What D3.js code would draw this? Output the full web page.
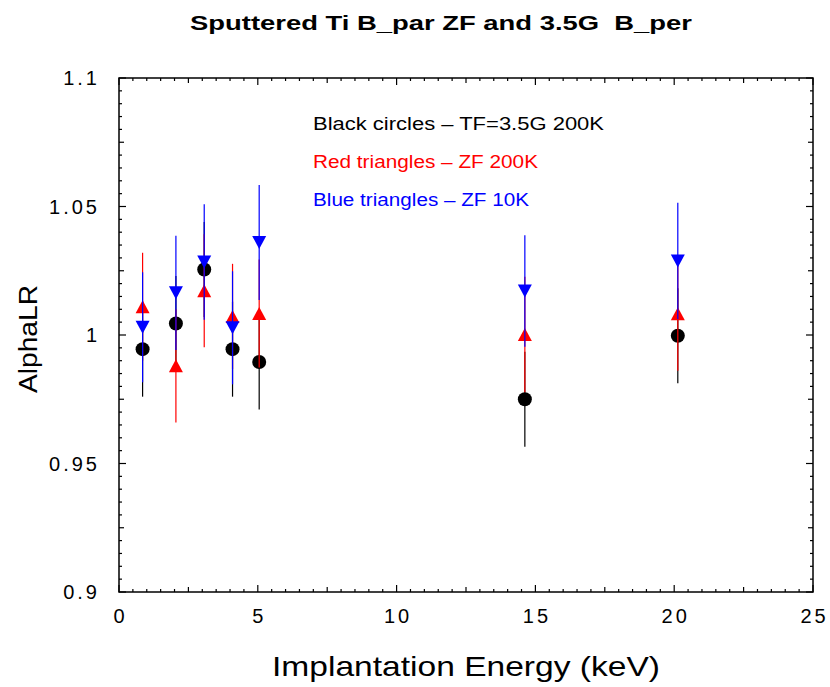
<!DOCTYPE html>
<html>
<head>
<meta charset="utf-8">
<script src="https://cdn.jsdelivr.net/npm/d3@7"></script>
<style>
  body { margin: 0; background: #fff; }
  svg text { font-family: "Liberation Sans", Arial, sans-serif; white-space: pre; }
</style>
</head>
<body>
<div id="chart"></div>
<script>
// Data
const energy = [0.85, 2.05, 3.07, 4.09, 5.05, 14.62, 20.13];

const blackVals = [0.9945, 1.0045, 1.0255, 0.9945, 0.9895, 0.9750, 0.9997];
const blackErr  = [0.0185, 0.0185, 0.0185, 0.0185, 0.0185, 0.0185, 0.0185];

const redVals = [1.0110, 0.9880, 1.0172, 1.0072, 1.0084, 1.0002, 1.0083];
const redErr  = [0.0210, 0.0220, 0.0220, 0.0205, 0.0210, 0.0225, 0.0222];

const blueVals = [1.0030, 1.0164, 1.0284, 1.0028, 1.0360, 1.0171, 1.0288];
const blueErr  = [0.0214, 0.0222, 0.0225, 0.0220, 0.0224, 0.0217, 0.0227];

const legendTexts = [
    "Black circles \u2013 TF=3.5G 200K",
    "Red triangles \u2013 ZF 200K",
    "Blue triangles \u2013 ZF 10K"
];
const legendColors = ["#000000", "#ff0000", "#0000ff"];

const xMajor = [0, 5, 10, 15, 20, 25];
const yMajor = [0.9, 0.95, 1.0, 1.05, 1.1];

const width = 830;
const height = 687;
const margin = { left: 119, right: 17, top: 78, bottom: 95 };

const svg = d3.select("#chart")
    .append("svg")
    .attr("width", width)
    .attr("height", height);

const x = d3.scaleLinear().domain([0, 25]).range([margin.left, width - margin.right]);
const y = d3.scaleLinear().domain([0.9, 1.1]).range([height - margin.bottom, margin.top]);

const xl = x(0), xr = x(25), yb = y(0.9), yt = y(1.1);

// frame
svg.append("rect")
    .attr("x", xl)
    .attr("y", yt)
    .attr("width", xr - xl)
    .attr("height", yb - yt)
    .attr("fill", "none")
    .attr("stroke", "#000")
    .attr("stroke-width", 1.5);

// stretch a text to a given width (the reference uses wide lettering)
const fit = (sel, w) => sel.attr("textLength", w).attr("lengthAdjust", "spacingAndGlyphs");

// tick labels
svg.append("g").selectAll("text")
    .data(xMajor)
    .enter().append("text")
    .attr("x", d => x(d))
    .attr("y", yb + 31)
    .attr("text-anchor", "middle")
    .attr("font-size", 20)
    .attr("letter-spacing", 3)
    .attr("dx", 1.5)
    .text(d => d);

svg.append("g").selectAll("text")
    .data(yMajor)
    .enter().append("text")
    .attr("x", xl - 19)
    .attr("y", d => y(d) + 7)
    .attr("text-anchor", "end")
    .attr("font-size", 20)
    .attr("letter-spacing", 3)
    .text(d => String(+d.toFixed(2)));

// titles
svg.append("text")
    .attr("x", 441)
    .attr("y", 30)
    .attr("text-anchor", "middle")
    .attr("font-size", 21)
    .attr("font-weight", "bold")
    .text("Sputtered Ti B_par ZF and 3.5G  B_per")
    .call(fit, 502);

svg.append("text")
    .attr("x", (xl + xr) / 2)
    .attr("y", 676)
    .attr("text-anchor", "middle")
    .attr("font-size", 28)
    .text("Implantation Energy (keV)")
    .call(fit, 388);

svg.append("text")
    .attr("transform", `translate(37,339) rotate(-90)`)
    .attr("text-anchor", "middle")
    .attr("font-size", 26)
    .text("AlphaLR")
    .call(fit, 108);

// legend text inside the plot
const legendWidths = [291, 225, 216];
svg.append("g").selectAll("text")
    .data(legendTexts)
    .enter().append("text")
    .attr("x", 313)
    .attr("y", (d, i) => 130 + i * 38)
    .attr("font-size", 17.5)
    .attr("fill", (d, i) => legendColors[i])
    .text(d => d)
    .each(function(d, i) { d3.select(this).call(fit, legendWidths[i]); });

// series
const series = [
    { vals: blackVals, err: blackErr, color: "#000000", shape: "circle" },
    { vals: redVals, err: redErr, color: "#ff0000", shape: "up" },
    { vals: blueVals, err: blueErr, color: "#0000ff", shape: "down" }
];

const triPath = (dir) => {
    const w = 7, h = 6.5;
    return dir === "up"
        ? `M0,${-h}L${w},${h}L${-w},${h}Z`
        : `M0,${h}L${w},${-h}L${-w},${-h}Z`;
};

series.forEach(s => {
    const pts = energy.map((e, i) => ({ e: e, v: s.vals[i], err: s.err[i] }));
    const g = svg.append("g");

    g.selectAll(".err")
        .data(pts)
        .enter().append("line")
        .attr("x1", d => x(d.e))
        .attr("x2", d => x(d.e))
        .attr("y1", d => y(d.v - d.err))
        .attr("y2", d => y(d.v + d.err))
        .attr("stroke", s.color)
        .attr("stroke-width", 1.2);

    if (s.shape === "circle") {
        g.selectAll(".pt")
            .data(pts)
            .enter().append("circle")
            .attr("cx", d => x(d.e))
            .attr("cy", d => y(d.v))
            .attr("r", 7)
            .attr("fill", s.color);
    } else {
        g.selectAll(".pt")
            .data(pts)
            .enter().append("path")
            .attr("transform", d => `translate(${x(d.e)},${y(d.v)})`)
            .attr("d", triPath(s.shape))
            .attr("fill", s.color);
    }
});

// inward tick marks on all four sides, drawn last so nothing covers them:
// minor every 0.5 / 0.005, medium at 2.5 / 0.025, major at 5 / 0.05
const tickLen = i => i % 10 === 0 ? 7 : (i % 5 === 0 ? 5 : 3);
const xTicks = d3.range(0, 51).map(i => ({ v: i * 0.5, len: tickLen(i) }));
const yTicks = d3.range(0, 41).map(i => ({ v: 0.9 + i * 0.005, len: tickLen(i) }));

const tickG = svg.append("g");

[[yb, -1], [yt, 1]].forEach(([yy, s]) => {
    tickG.selectAll(null)
        .data(xTicks)
        .enter().append("line")
        .attr("x1", d => x(d.v))
        .attr("x2", d => x(d.v))
        .attr("y1", yy)
        .attr("y2", d => yy + s * d.len)
        .attr("stroke", "#000")
        .attr("stroke-width", 1.2);
});

[[xl, 1], [xr, -1]].forEach(([xx, s]) => {
    tickG.selectAll(null)
        .data(yTicks)
        .enter().append("line")
        .attr("y1", d => y(d.v))
        .attr("y2", d => y(d.v))
        .attr("x1", xx)
        .attr("x2", d => xx + s * d.len)
        .attr("stroke", "#000")
        .attr("stroke-width", 1.2);
});
</script>
</body>
</html>
